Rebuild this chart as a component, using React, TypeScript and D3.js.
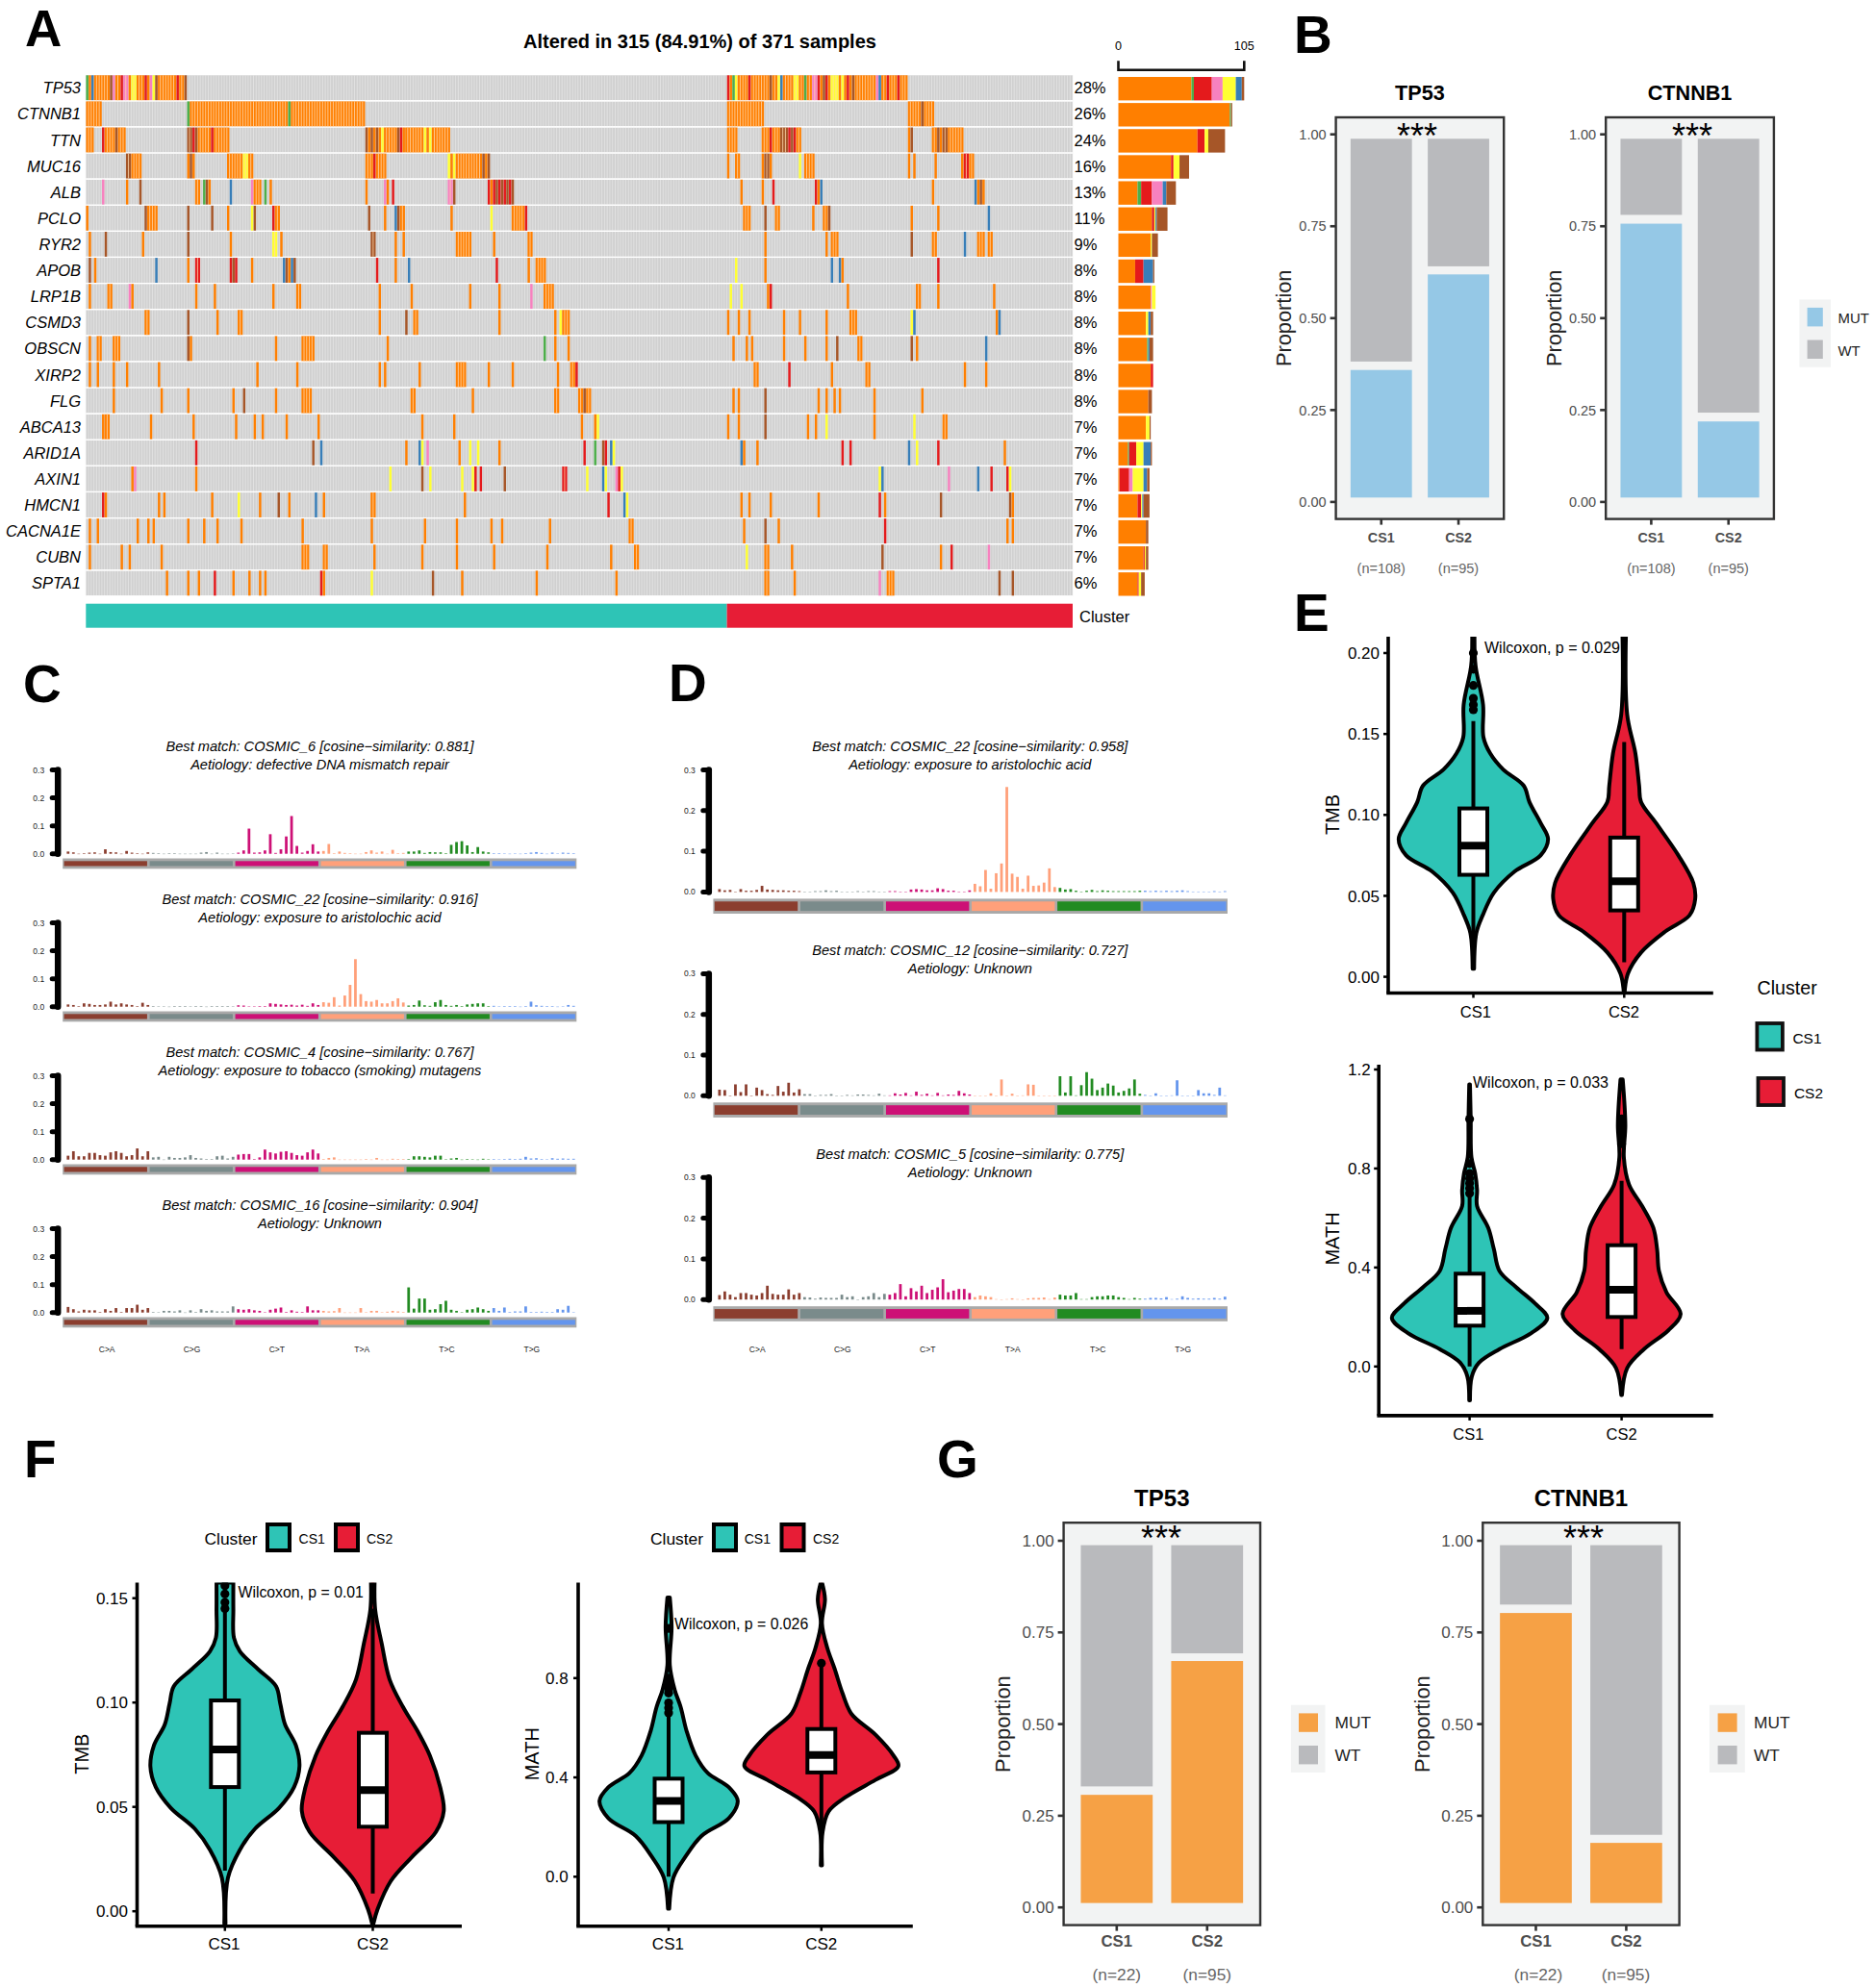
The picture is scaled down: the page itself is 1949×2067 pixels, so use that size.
import * as d3 from 'd3';

const FONT = '"Liberation Sans", Arial, sans-serif';
const TEAL = '#2EC4B6';
const RED = '#E71D36';

// ---- panel A, oncoplot ----
const genes = ['TP53', 'CTNNB1', 'TTN', 'MUC16', 'ALB', 'PCLO', 'RYR2', 'APOB', 'LRP1B', 'CSMD3', 'OBSCN', 'XIRP2', 'FLG', 'ABCA13', 'ARID1A', 'AXIN1', 'HMCN1', 'CACNA1E', 'CUBN', 'SPTA1'];
const pctLabels = ['28%', '26%', '24%', '16%', '13%', '11%', '9%', '8%', '8%', '8%', '8%', '8%', '8%', '7%', '7%', '7%', '7%', '7%', '7%', '6%'];
const mutTypes = ['M', 'S', 'N', 'I', 'D', 'F', 'B'];
const mutColors: Record<string, string> = { M: '#FF7F00', S: '#4DAF4A', N: '#E41A1C', I: '#F781BF', D: '#FFFF33', F: '#377EB8', B: '#A65628' };
const nSamples = 371;
const nCS1 = 241;

// type + sample column (or column range)
const geneHits = [
  'S0 M1 F2 M3-8 B9 I10 M11-12 N13 I14-15 M16 D17-18 M19-21 N22 M23 I24 D25 B26 M27-33 N34 M35-36 B37 N241 M242 S243 D244 M245-248 N249 M250-256 B257 M258-259 D260 F261 M262-265 D266-267 M268-269 S270 M271-272 I273-274 N275 M276 B277 N278 M279 D280-282 M283 D284 M285 N286 M287 B288 M289-296 I297 F298 M299-300 N301 M302-304 N305 M306-308',
  'M0-5 S38 M39-75 S76 M77-104 M241-254 M309-313 B314 M315-318',
  'M0-2 N6 M7-10 B11 M12-14 B38-39 N40 B41 M42-46 N47 M48-53 B105 M106 B107 M108 B109 M110 D111 M112-116 B117 N118 M119 M120-126 D127 M128 D129 M130-136 M241-244 M254-256 N257 M258-260 B261-263 N264 B265 N266 M267-268 M309 B310 M318-319 B320 M321 B322-323 M324-329',
  'B15-16 M17-20 M38 B39 M40 M53-58 D59-60 M61-62 M105-107 N108 M109-112 D136 M137 D138 M139-148 B149 M150 B151 M241 M244-245 M254 B255-256 M257 D268 M270-273 M309 M311 M319 M329 N330-331 M332-333',
  'I6 M15 B20 M41-42 S44 B45 M46 F54 I62 M63-65 S67 M69 M105 I112 M113 N115 I136-137 B138 N151 M152 N153 B154 N155 B156 N157 B158 N159 B160 M246 M254 N258 N274 M275 F276 M318 F334 M335 B336 M337',
  'M0 B22 M23-26 B38 B47 M53 D62 B63 N70 M71-72 B106 M112 F116 B117 M118-119 M137 D152 M160-164 N165 M247-249 B255 M259-260 M273 M277-278 B279 M310 M320 F339',
  'M1 B7 M21 B38 M54 D70-71 M73 B107-108 M116 M119 M139-144 M153 M166-167 M255 M278 M280-282 B310 M318-319 F330 M335-337 M339-340',
  'B1 M3 F26 M38 N41-42 N54 B55 N56 M62 F74 B75 M76 F77 B78 N109 M116 F121 N154 M166 M169-172 D244 M255 F280 F283 M284 N320',
  'M1 M8-9 I16 M17 M41 M48 M70 M79-80 M110 M122 M144 M155 I167 M172-175 D242 D246 M256 N257 M286 M312-313 M320 M341',
  'M22-23 B38 M49 M57-58 M110 B120 M123-124 M155 M176 D178 M179-181 M241 M245 M249 M262 M268 M278 M287-289 D310 F311 M342 F343',
  'M1 M4-5 M10-12 B38 M39 M71 M81-85 M113 S172 M176 M181 M243 M248 M250 M262 M270 M278 B282 M290-291 B310 M312 F338',
  'M1 M4 M10 M15 M27 M64 M79 M110 M112 M125 M139-142 M151 M160 M177 M182-183 N184 M251-252 N264 M280 M293-294 M330 M338',
  'M10 M28 M38 M55 B59 M71 M81-84 M122-123 M145 M176-177 M185-186 B187 M188-189 M243 M245 B255 M275 M278 M281 M283 M296 M314',
  'M6 M7-8 M24 M40 M56 M63 M66 M75 M87 M126 M138 M186 M191 D192 M241 M245 B255 M271 M274 D278 M296 D311 M322-323',
  'N41 B85 F88 M120 F125 D126 I128 M140 D144 D147 M155 N187 S191 B194 N195 F197 D198 F246 M247 M252 N284 N287 F309 D312 N320 M345',
  'M17 I18 M41 D114 B126 D129 D141 D145 N146 N148 B157 N179-180 D188 F194 D195 I199 N200 D201 D298 F299 I324 F335 N340 N346 D347',
  'N6 M7 M27 M29 M47 D57 M65 B72 M76 F86 M89 M107-108 M142 N196 F202 D203 M246 M249 M257 M275 N298 M300 B321 B347 M348',
  'M1 M4 M19 M23 M25 M38 M44 M49 M58 M81 M107 M127 M139 M152 M156 M174 M204-205 M247 B255 M260 N300 M346 M348',
  'M1 M13 M16 M28 M81-83 M89-90 M108 M126 M139 M153 M173 M197 M206-207 D248 M255-256 M265 B299 M321 N325 I339',
  'M30 M38 M42 N48 M55 M61 M65 M67 N88 M89 D107 B130 M141 M169 M199 M255-256 M266 I298 M301-303 B343 B348',
];

// order of mutTypes at right
const geneCounts = [
  [61, 2, 15, 9, 11, 5, 2],
  [93, 1, 0, 0, 0, 0, 1],
  [66, 0, 6, 0, 3, 0, 14],
  [44, 0, 2, 0, 5, 0, 8],
  [16, 3, 9, 9, 0, 3, 8],
  [28, 0, 2, 0, 1, 1, 9],
  [27, 0, 0, 0, 1, 0, 5],
  [14, 0, 7, 0, 0, 8, 1],
  [27, 0, 0, 1, 3, 0, 0],
  [23, 0, 0, 0, 2, 2, 2],
  [24, 1, 0, 0, 0, 1, 3],
  [27, 0, 2, 0, 0, 0, 0],
  [25, 0, 0, 0, 0, 0, 3],
  [23, 0, 0, 0, 3, 0, 1],
  [8, 1, 6, 0, 6, 6, 1],
  [1, 0, 8, 3, 9, 3, 2],
  [16, 0, 3, 0, 1, 1, 5],
  [23, 0, 0, 0, 0, 0, 2],
  [21, 0, 1, 0, 1, 0, 2],
  [16, 0, 1, 0, 2, 0, 3],
];

function parseHits(s: string) {
  return s.split(' ').map(tok => {
    const [a, b] = tok.slice(1).split('-').map(Number);
    return { type: tok[0], start: a, end: b === undefined ? a : b };
  });
}

function Oncoplot() {
  const x = d3.scaleBand<number>(d3.range(nSamples), [89.3, 1115]);
  const y = d3.scaleBand<string>(genes, [78.3, 619.3]).paddingInner(0.045);
  const barX = d3.scaleLinear([0, 105], [1162.5, 1293.3]);
  const stack = d3.stack<number[]>().keys(mutTypes.map((_, i) => String(i))).value((d, k) => d[+k]);
  const series = stack(geneCounts);
  return (
    <g fontFamily={FONT}>
      <text x={727.5} y={50} textAnchor="middle" fontSize={20} fontWeight="bold">Altered in 315 (84.91%) of 371 samples</text>
      {genes.map((g, i) => (
        <g key={g}>
          <rect x={89.3} y={y(g)} width={1025.7} height={y.bandwidth()} fill="#D0D0D0" />
          <text x={84} y={y(g)! + 19} textAnchor="end" fontSize={16.5} fontStyle="italic">{g}</text>
          <text x={1116.5} y={y(g)! + 19} fontSize={16.5}>{pctLabels[i]}</text>
        </g>
      ))}
      {d3.range(nSamples + 1).map(i => (
        <line key={i} x1={89.3 + i * x.step()} x2={89.3 + i * x.step()} y1={78.3} y2={619.3} stroke="#EDEDED" strokeWidth={0.6} />
      ))}
      {genes.map(g => (
        <line key={g} x1={89.3} x2={1115} y1={y(g)! + y.bandwidth() + 0.6} y2={y(g)! + y.bandwidth() + 0.6} stroke="#fff" strokeWidth={1.2} />
      ))}
      {genes.map((g, i) => parseHits(geneHits[i]).map((h, j) => (
        <rect key={g + j} x={x(h.start)! + 0.15} y={y(g)} width={(h.end - h.start + 1) * x.step() - 0.3} height={y.bandwidth()} fill={mutColors[h.type]} />
      )))}
      {/* column gaps inside runs */}
      {genes.map((g, i) => parseHits(geneHits[i]).filter(h => h.end > h.start).map((h, j) => d3.range(h.start + 1, h.end + 1).map(c => (
        <line key={g + j + '-' + c} x1={x(c)} x2={x(c)} y1={y(g)} y2={y(g)! + y.bandwidth()} stroke="#FFD9B0" strokeWidth={0.8} />
      ))))}
      <rect x={89.3} y={627.7} width={x(nCS1)! - 89.3} height={25} fill={TEAL} />
      <rect x={x(nCS1)} y={627.7} width={1115 - x(nCS1)!} height={25} fill={RED} />
      <text x={1122} y={646.7} fontSize={16.5}>Cluster</text>

      <path d={`M${barX(0)},63.3V72.7H${barX(105)}V63.3`} fill="none" stroke="#111" strokeWidth={2.6} />
      <text x={barX(0)} y={51.5} textAnchor="middle" fontSize={12.6}>0</text>
      <text x={barX(105)} y={51.5} textAnchor="middle" fontSize={12.6}>105</text>
      {series.map((s, k) => s.map((d, i) => (
        <rect key={k + '-' + i} x={barX(d[0])} y={y(genes[i])! + 1.7} width={barX(d[1]) - barX(d[0])} height={24.4} fill={mutColors[mutTypes[k]]} />
      )))}
    </g>
  );
}

// ---- panels B, G, stacked proportion bars ----
const clusters = ['CS1', 'CS2'];
const bMutTp53 = [0.359, 0.619];
const bWtBaseTp53 = [0.382, 0.641];
const bMutCtnnb1 = [0.757, 0.219];
const bWtBaseCtnnb1 = [0.781, 0.243];
const gMutTp53 = [0.307, 0.672];
const gWtBaseTp53 = [0.33, 0.693];
const gMutCtnnb1 = [0.803, 0.176];
const gWtBaseCtnnb1 = [0.826, 0.198];
const propTicks = [0, 0.25, 0.5, 0.75, 1];

type PropProps = {
  title: string; mut: number[]; wtBase: number[]; nLabels: string[]; color: string;
  left: number; right: number; top: number; bottom: number; y0: number; y1: number;
  titleY: number; titleSize: number; starsX: number; starsY: number; labelX: number;
  tickSize: number; xLabelY: number; nY: number; nSize: number; xSize: number; nXs?: number[];
};

function PropPanel(p: PropProps) {
  const x = d3.scaleBand<string>(clusters, [p.left, p.right]).paddingInner(0.205).paddingOuter(0.19);
  const y = d3.scaleLinear([0, 1], [p.y0, p.y1]);
  return (
    <g fontFamily={FONT}>
      <rect x={p.left} y={p.top} width={p.right - p.left} height={p.bottom - p.top} fill="#F2F3F3" stroke="#333" strokeWidth={2.4} />
      {clusters.map((c, i) => (
        <g key={c}>
          <rect x={x(c)} width={x.bandwidth()} y={y(p.mut[i])} height={y(0.012) - y(p.mut[i])} fill={p.color} />
          <rect x={x(c)} width={x.bandwidth()} y={y(0.988)} height={y(p.wtBase[i]) - y(0.988)} fill="#B9BABD" />
          <line x1={x(c)! + x.bandwidth() / 2} x2={x(c)! + x.bandwidth() / 2} y1={p.bottom} y2={p.bottom + 6} stroke="#333" strokeWidth={2.6} />
          <text x={x(c)! + x.bandwidth() / 2} y={p.xLabelY} textAnchor="middle" fontSize={p.xSize} fontWeight="bold" fill="#4D4D4D">{c}</text>
          <text x={p.nXs ? p.nXs[i] : x(c)! + x.bandwidth() / 2} y={p.nY} textAnchor="middle" fontSize={p.nSize} fill="#666">{p.nLabels[i]}</text>
        </g>
      ))}
      {propTicks.map(t => (
        <g key={t}>
          <line x1={p.left - 6} x2={p.left} y1={y(t)} y2={y(t)} stroke="#333" strokeWidth={2.6} />
          <text x={p.left - 10} y={y(t) + p.tickSize * 0.36} textAnchor="end" fontSize={p.tickSize} fill="#4D4D4D">{t.toFixed(2)}</text>
        </g>
      ))}
      <text x={(p.left + p.right) / 2} y={p.titleY} textAnchor="middle" fontSize={p.titleSize} fontWeight="bold">{p.title}</text>
      <text x={p.starsX} y={p.starsY} textAnchor="middle" fontSize={36}>***</text>
      <text transform={`translate(${p.labelX},${(p.y0 + p.y1) / 2}) rotate(-90)`} textAnchor="middle" fontSize={21.8} fill="#222">Proportion</text>
    </g>
  );
}

function PropLegend({ x, y, w, h, sw, sx, mutY, wtY, swH, tx, size, color, mutBase, wtBase }: any) {
  return (
    <g fontFamily={FONT}>
      <rect x={x} y={y} width={w} height={h} fill="#F2F3F3" />
      <rect x={sx} y={mutY} width={sw} height={swH} fill={color} />
      <rect x={sx} y={wtY} width={sw} height={swH} fill="#B9BABD" />
      <text x={tx} y={mutBase} fontSize={size} fill="#222">MUT</text>
      <text x={tx} y={wtBase} fontSize={size} fill="#222">WT</text>
    </g>
  );
}

// ---- panels C, D, 96 channel mutational signatures ----
const sigClasses = ['C>A', 'C>G', 'C>T', 'T>A', 'T>C', 'T>G'];
const sigColors = ['#8B3E2F', '#7A8B8B', '#CD1076', '#FFA07A', '#228B22', '#6495ED'];
const sigTicks = [0, 0.1, 0.2, 0.3];

const cCosmic6 = [
  .008, .005, 0, .002, .004, .005, 0, .016, .006, .005, 0, .01, .004, .002, 0, .005,
  .003, .002, 0, .002, .002, 0, 0, 0, 0, .004, .006, 0, .004, 0, 0, .001,
  .004, .012, .09, .004, .005, .012, .07, .003, .016, .062, .135, .028, .004, .01, .034, .008,
  .01, .035, .002, .008, .003, .002, 0, 0, .006, .012, .004, .008, 0, .014, .002, .003,
  .008, .008, .012, .003, .006, .005, .005, .002, .032, .042, .045, .03, .006, .024, .008, .005,
  .002, .002, .001, 0, .001, 0, .002, .004, .006, .003, 0, .004, .001, .004, .003, .002,
];
const cCosmic22 = [
  .008, .006, .002, .012, .01, .006, .006, .008, .018, .008, .012, .008, .006, .002, .014, .006,
  .002, .001, .001, 0, .002, .002, .002, .001, .002, .002, 0, .002, .002, .002, .002, .001,
  .005, .004, .001, .001, .002, .002, .012, .01, .008, .006, .007, .004, .007, .003, .012, .006,
  .016, .014, .034, .004, .04, .078, .17, .045, .02, .018, .024, .012, .012, .02, .03, .015,
  .004, .006, .022, .005, .003, .016, .024, .006, .003, .006, .002, .008, .01, .012, .012, .002,
  .003, .001, .002, .002, .002, 0, .002, .018, .005, .003, .002, .002, 0, .001, .006, .003,
];
const cCosmic4 = [
  .014, .03, .012, .012, .024, .024, .016, .014, .026, .03, .024, .012, .016, .04, .012, .03,
  .008, .01, 0, .01, .006, .006, .008, .016, .006, .004, .002, .002, .012, .014, .004, .01,
  .018, .02, .02, .002, .008, .036, .026, .022, .028, .03, .024, .016, .014, .026, .036, .022,
  .002, .006, .008, 0, 0, 0, 0, 0, .002, 0, .006, 0, 0, .003, .002, .002,
  .002, .012, .012, .01, .008, .014, .014, .001, .004, .006, 0, .002, .001, 0, .003, .001,
  .002, .001, .002, .003, .002, .003, .01, .004, .005, .002, .001, .005, .003, .004, .003, .003,
];
const cCosmic16 = [
  .02, .012, .004, .01, .008, .008, .002, .012, .006, .016, .002, .016, .016, .028, .01, .016,
  .002, .001, .006, .006, .004, .008, 0, .008, .002, .012, .006, .008, .004, .004, .004, .022,
  .012, .01, .012, .008, .006, .001, .01, .014, .018, .002, .008, .003, .002, .022, .008, .008,
  .006, .004, .005, .016, 0, 0, 0, .016, .001, .006, .006, .001, .003, .006, .004, .002,
  .09, .014, .05, .05, .01, .012, .03, .042, .01, .006, .001, .01, .012, .018, .012, .006,
  .016, .006, .018, .002, .004, .004, .022, .002, .002, .003, .002, .002, .012, .01, .024, .001,
];
const dCosmic22 = [
  .007, .004, .005, 0, .007, .003, .003, .005, .015, .006, .005, .004, .004, .003, .003, .002,
  0, 0, .002, .002, .004, .002, .003, 0, 0, 0, .002, 0, .002, .002, 0, 0,
  .002, .002, 0, 0, .006, .007, .006, .004, .004, .009, .007, .003, .003, .001, .001, .004,
  .02, .014, .054, .008, .046, .07, .258, .045, .037, .008, .04, .015, .016, .023, .058, .012,
  .01, .006, .007, .003, .001, .003, .005, .002, .004, .003, .002, .002, .002, .002, .002, .003,
  .003, .002, .003, .002, .003, .002, .003, .004, .002, .001, .001, .001, 0, .002, .001, .002,
];
const dCosmic12 = [
  .015, .014, 0, .028, .009, .028, 0, .02, .014, .004, .002, .024, .01, .032, .008, .016,
  .004, .004, 0, .002, .002, .004, 0, 0, .002, .001, .003, .003, .002, .001, .005, .001,
  .001, .006, .003, .007, .001, .01, .002, .005, .001, .007, .001, .003, .002, .012, .006, .003,
  0, 0, 0, .006, 0, .04, 0, .005, 0, .001, .028, .027, 0, 0, 0, 0,
  .048, .008, .048, .001, .026, .058, .042, .014, .02, .03, .025, .008, .012, .018, .04, .005,
  .002, 0, .006, 0, 0, .001, .038, 0, 0, 0, .014, .006, .006, .002, .02, .001,
];
const dCosmic5 = [
  .011, .02, .012, .006, .016, .016, .012, .01, .016, .034, .014, .012, .012, .025, .012, .016,
  .006, .005, .002, .005, .004, .004, .004, .012, .006, .008, 0, .006, .008, .016, .006, .014,
  .012, .016, .038, .008, .028, .02, .034, .016, .024, .03, .05, .018, .022, .026, .026, .016,
  .006, .01, .008, .006, .001, 0, .001, .003, .001, 0, .003, .004, .004, .005, .001, .005,
  .012, .01, .01, .016, .001, .001, .006, .008, .008, .01, .01, .006, .004, .001, .004, .002,
  .002, .004, .004, .003, .006, .001, .002, .008, .004, .002, .003, .002, .002, .004, .002, .007,
];

type SigProps = {
  values: number[]; line1: string; line2: string; axisX: number; y3: number; y0: number;
  barStart: number; stripLeft: number; stripRight: number; stripTop: number; stripBottom: number; innerInset: number;
  textX: number; line1Y: number;
};

function SigPanel(p: SigProps) {
  const step = 5.56;
  const x = d3.scaleBand<number>(d3.range(96), [p.barStart - step / 2, p.barStart - step / 2 + 96 * step]).padding(0.5);
  const y = d3.scaleLinear([0, 0.3], [p.y0, p.y3]);
  const classX = d3.scaleBand<string>(sigClasses, [p.stripLeft + 1.4, p.stripRight - 1.4]).paddingInner(0.03);
  return (
    <g fontFamily={FONT}>
      <text x={p.textX} y={p.line1Y} textAnchor="middle" fontSize={14.6} fontStyle="italic">{p.line1}</text>
      <text x={p.textX} y={p.line1Y + 19} textAnchor="middle" fontSize={14.6} fontStyle="italic">{p.line2}</text>
      <line x1={p.axisX} x2={p.axisX} y1={y(0)} y2={y(0.3)} stroke="#000" strokeWidth={6.5} strokeLinecap="round" />
      {sigTicks.map(t => (
        <g key={t}>
          <line x1={p.axisX - 6} x2={p.axisX} y1={y(t)} y2={y(t)} stroke="#000" strokeWidth={5} strokeLinecap="round" />
          <text x={p.axisX - 14} y={y(t) + 3} textAnchor="end" fontSize={8.5} fill="#222">{t.toFixed(1)}</text>
        </g>
      ))}
      {p.values.map((v, i) => (
        <rect key={i} x={x(i)} width={x.bandwidth()} y={y(v)} height={Math.max(y(0) - y(v), 0.4)} fill={sigColors[Math.floor(i / 16)]} />
      ))}
      <rect x={p.stripLeft} y={p.stripTop} width={p.stripRight - p.stripLeft} height={p.stripBottom - p.stripTop} fill="#A9A9A9" />
      {sigClasses.map((c, i) => (
        <rect key={c} x={classX(c)} width={classX.bandwidth()} y={p.stripTop + p.innerInset} height={p.stripBottom - p.stripTop - 2 * p.innerInset} fill={sigColors[i]} />
      ))}
    </g>
  );
}

function SigClassLabels({ left, right }: { left: number; right: number }) {
  const classX = d3.scaleBand<string>(sigClasses, [left, right]);
  return (
    <g fontFamily={FONT}>
      {sigClasses.map(c => (
        <text key={c} x={classX(c)! + classX.bandwidth() / 2} y={1406} textAnchor="middle" fontSize={8.5} fill="#222">{c}</text>
      ))}
    </g>
  );
}

// ---- panels E, F, violins: value read at height, half width as read ----
const eTmbCs1Val = [.21, .192, .168, .148, .138, .128, .118, .108, .095, .085, .075, .065, .052, .038, .027, .005];
const eTmbCs1Den = [3, 6, 26, 27, 45, 80, 135, 150, 180, 200, 180, 110, 55, 25, 8, 2];
const eTmbCs2Val = [.215, .162, .138, .118, .108, .095, .075, .058, .048, .038, .028, .015, .002, -.01];
const eTmbCs2Den = [5, 8, 30, 40, 45, 85, 145, 185, 190, 175, 110, 45, 10, 1];
const eMathCs1Val = [1.14, 1.0, .845, .78, .714, .648, .56, .474, .386, .32, .255, .196, .135, .07, .015, -.04, -.137];
const eMathCs1Den = [1, 3, 5, 15, 20, 20, 50, 65, 80, 125, 175, 208, 165, 80, 25, 6, 1];
const eMathCs2Val = [1.16, .975, .845, .735, .648, .56, .474, .386, .3, .212, .146, .07, -.006, -.115];
const eMathCs2Den = [3, 10, 6, 20, 55, 85, 95, 100, 120, 158, 125, 60, 15, 1];
const fTmbCs1Val = [.1575, .1445, .131, .1245, .116, .1078, .0995, .0895, .0795, .0695, .0595, .0495, .0395, .0295, .016, -.006];
const fTmbCs1Den = [14, 14, 15, 25, 55, 85, 92, 100, 118, 124, 115, 90, 50, 25, 5, 1];
const fTmbCs2Val = [.1575, .1445, .128, .111, .098, .086, .0745, .0595, .048, .038, .026, .0145, .001, -.006];
const fTmbCs2Den = [3, 4, 15, 28, 50, 75, 95, 112, 118, 105, 65, 30, 8, 1];
const fMathCs1Val = [1.125, 1.006, .852, .754, .684, .586, .488, .418, .361, .305, .235, .165, .081, -.003, -.129];
const fMathCs1Den = [2, 5, 2, 10, 20, 30, 45, 65, 100, 115, 100, 55, 28, 8, 1];
const fMathCs2Val = [1.185, 1.118, 1.02, .92, .838, .74, .656, .572, .488, .445, .39, .32, .263, .18, .046];
const fMathCs2Den = [1, 6, 1, 10, 22, 35, 50, 90, 120, 128, 90, 40, 12, 2, 1];

// q1, median, q3, whisker low, whisker high
const eTmbBox = [[.063, .081, .104, .005, .158], [.041, .059, .086, .009, .145]];
const eMathBox = [[.165, .225, .375, 0, .71], [.2, .31, .49, .07, .75]];
const fTmbBox = [[.0595, .0775, .101, .0195, .15], [.0405, .058, .0855, .0085, .145]];
const fMathBox = [[.22, .305, .395, 0, .65], [.42, .49, .595, .05, .85]];
const eTmbOut = [[.165, .168, .172, .18, .19, .2], []];
const eMathOut = [[.70, .72, .74, .76, .78, .82, 1.0], [.9, .93, .95, .98, 1.0]];
const fTmbOut = [[.145, .148, .152, .156], []];
const fMathOut = [[.66, .68, .7, .74, .76, .78, .8, 1.0], [.86]];

type ViolinProps = {
  id: string; vals: number[][]; dens: number[][]; box: number[][]; out: number[][];
  cx: number[]; axisX: number; top: number; bottom: number; right: number;
  yDomain: number[]; yRange: number[]; ticks: number[]; tickFmt: string; tickRight: number; tickSize: number;
  widthPerUnit: number; boxHalf: number; ylabel: string; ylabelX: number; ylabelY: number;
  xLabelXs: number[]; xLabelY: number; xSize: number;
  note: string; noteX: number; noteY: number; noteSize: number;
  stroke: number;
};

function ViolinPlot(p: ViolinProps) {
  const y = d3.scaleLinear(p.yDomain, p.yRange);
  const w = d3.scaleLinear([0, 1], [0, p.widthPerUnit]);
  const fmt = d3.format(p.tickFmt);
  const fills = [TEAL, RED];
  return (
    <g fontFamily={FONT}>
      <clipPath id={p.id}>
        <rect x={p.axisX} y={p.top} width={p.right - p.axisX} height={p.bottom - p.top} />
      </clipPath>
      <g clipPath={`url(#${p.id})`}>
        {fills.map((fill, k) => {
          const rows = p.vals[k].map((v, i) => ({ v, d: p.dens[k][i] }));
          const area = d3.area<{ v: number; d: number }>()
            .y(r => y(r.v))
            .x0(r => p.cx[k] - w(r.d))
            .x1(r => p.cx[k] + w(r.d))
            .curve(d3.curveCatmullRom);
          const [q1, med, q3, lo, hi] = p.box[k];
          return (
            <g key={k}>
              <path d={area(rows) ?? undefined} fill={fill} stroke="#000" strokeWidth={p.stroke} strokeLinejoin="round" />
              <line x1={p.cx[k]} x2={p.cx[k]} y1={y(lo)} y2={y(hi)} stroke="#000" strokeWidth={p.stroke} />
              {p.out[k].map((o, i) => <circle key={i} cx={p.cx[k]} cy={y(o)} r={4.6} fill="#000" />)}
              <rect x={p.cx[k] - p.boxHalf} y={y(q3)} width={2 * p.boxHalf} height={y(q1) - y(q3)} fill="#fff" stroke="#000" strokeWidth={p.stroke} />
              <line x1={p.cx[k] - p.boxHalf} x2={p.cx[k] + p.boxHalf} y1={y(med)} y2={y(med)} stroke="#000" strokeWidth={p.stroke * 2} />
            </g>
          );
        })}
      </g>
      <line x1={p.axisX} x2={p.axisX} y1={p.top} y2={p.bottom} stroke="#000" strokeWidth={3.6} />
      <line x1={p.axisX - 1.8} x2={p.right} y1={p.bottom} y2={p.bottom} stroke="#000" strokeWidth={3.6} />
      {p.ticks.map(t => (
        <g key={t}>
          <line x1={p.axisX - 5} x2={p.axisX} y1={y(t)} y2={y(t)} stroke="#000" strokeWidth={2.5} />
          <text x={p.tickRight} y={y(t) + p.tickSize * 0.36} textAnchor="end" fontSize={p.tickSize}>{fmt(t)}</text>
        </g>
      ))}
      {clusters.map((c, k) => (
        <g key={c}>
          <line x1={p.cx[k]} x2={p.cx[k]} y1={p.bottom} y2={p.bottom + 5} stroke="#000" strokeWidth={2.5} />
          <text x={p.xLabelXs[k]} y={p.xLabelY} textAnchor="middle" fontSize={p.xSize}>{c}</text>
        </g>
      ))}
      <text transform={`translate(${p.ylabelX},${p.ylabelY}) rotate(-90)`} textAnchor="middle" fontSize={20}>{p.ylabel}</text>
      <text x={p.noteX} y={p.noteY} fontSize={p.noteSize}>{p.note}</text>
    </g>
  );
}

function ClusterKeyF({ textX, a, b, ta, tb }: { textX: number; a: number; b: number; ta: number; tb: number }) {
  return (
    <g fontFamily={FONT}>
      <text x={textX} y={1605.6} fontSize={17.4}>Cluster</text>
      <rect x={a} y={1585} width={23} height={27} fill={TEAL} stroke="#000" strokeWidth={4} />
      <rect x={b} y={1585} width={23} height={27} fill={RED} stroke="#000" strokeWidth={4} />
      <text x={ta} y={1604.9} fontSize={14}>CS1</text>
      <text x={tb} y={1604.9} fontSize={14}>CS2</text>
    </g>
  );
}

const panelLetters = [
  { t: 'A', x: 26, y: 48, s: 53 },
  { t: 'B', x: 1345, y: 55, s: 55 },
  { t: 'C', x: 24, y: 730, s: 55 },
  { t: 'D', x: 695, y: 729, s: 55 },
  { t: 'E', x: 1345, y: 656, s: 55 },
  { t: 'F', x: 25, y: 1536, s: 55 },
  { t: 'G', x: 974, y: 1536, s: 55 },
];

const cPanels = [
  { v: cCosmic6, a: 'Best match: COSMIC_6 [cosine\u2212similarity: 0.881]', b: 'Aetiology: defective DNA mismatch repair' },
  { v: cCosmic22, a: 'Best match: COSMIC_22 [cosine\u2212similarity: 0.916]', b: 'Aetiology: exposure to aristolochic acid' },
  { v: cCosmic4, a: 'Best match: COSMIC_4 [cosine\u2212similarity: 0.767]', b: 'Aetiology: exposure to tobacco (smoking) mutagens' },
  { v: cCosmic16, a: 'Best match: COSMIC_16 [cosine\u2212similarity: 0.904]', b: 'Aetiology: Unknown' },
];
const dPanels = [
  { v: dCosmic22, a: 'Best match: COSMIC_22 [cosine\u2212similarity: 0.958]', b: 'Aetiology: exposure to aristolochic acid' },
  { v: dCosmic12, a: 'Best match: COSMIC_12 [cosine\u2212similarity: 0.727]', b: 'Aetiology: Unknown' },
  { v: dCosmic5, a: 'Best match: COSMIC_5 [cosine\u2212similarity: 0.775]', b: 'Aetiology: Unknown' },
];

export default function App() {
  const bCommon = { top: 122, bottom: 539.6, y0: 521.9, y1: 139.7, titleY: 104.4, titleSize: 21.6, starsY: 153.5, tickSize: 14.5, xLabelY: 564, nY: 595.5, nSize: 14.5, xSize: 14.3, color: '#95C8E6', nLabels: ['(n=108)', '(n=95)'] };
  const gCommon = { top: 1583.2, bottom: 2001.6, y0: 1983.2, y1: 1602, titleY: 1565.8, titleSize: 24, starsY: 1612, tickSize: 17, xLabelY: 2024.4, nY: 2058.8, nSize: 17.3, xSize: 16.7, color: '#F6A145', nLabels: ['(n=22)', '(n=95)'] };
  const eCommon = { stroke: 4, xSize: 16.5, tickSize: 17, widthPerUnit: 1 / 2.575, boxHalf: 14.5, noteSize: 16, right: 1780.8, ylabelX: 1392 };
  const fCommon = { stroke: 4, xSize: 17, tickSize: 17, widthPerUnit: 1 / 1.6, boxHalf: 14.5, noteSize: 15.8, top: 1645.4, bottom: 2002.7, xLabelY: 2027.3, ylabelY: 1823.7 };
  return (
    <svg width={1949} height={2067} style={{ position: 'absolute', left: 0, top: 0, background: '#fff' }}>
      {panelLetters.map(l => (
        <text key={l.t} x={l.x} y={l.y} fontFamily={FONT} fontWeight="bold" fontSize={l.s}>{l.t}</text>
      ))}
      <Oncoplot />

      <PropPanel {...bCommon} title="TP53" mut={bMutTp53} wtBase={bWtBaseTp53} left={1388.6} right={1563.2} starsX={1473} labelX={1342} />
      <PropPanel {...bCommon} title="CTNNB1" mut={bMutCtnnb1} wtBase={bWtBaseCtnnb1} left={1669.2} right={1843.9} starsX={1759} labelX={1623} />
      <PropLegend x={1870.4} y={311.4} w={32.6} h={70.3} sx={1878.6} sw={16.2} mutY={319.9} wtY={353.5} swH={19.5} tx={1910.5} size={14.9} color="#95C8E6" mutBase={335.9} wtBase={369.5} />

      <PropPanel {...gCommon} title="TP53" mut={gMutTp53} wtBase={gWtBaseTp53} left={1105.6} right={1310} starsX={1206.9} labelX={1050} />
      <PropPanel {...gCommon} title="CTNNB1" mut={gMutCtnnb1} wtBase={gWtBaseCtnnb1} left={1541.3} right={1745.6} starsX={1646} labelX={1486} nXs={[1599, 1690]} />
      <PropLegend x={1341.9} y={1772.7} w={35.6} h={70.2} sx={1350} sw={20} mutY={1781.4} wtY={1815} swH={19.4} tx={1387.5} size={17.3} color="#F6A145" mutBase={1797.3} wtBase={1831} />
      <PropLegend x={1776.9} y={1772.7} w={36.9} h={70.2} sx={1785.6} sw={20} mutY={1781.4} wtY={1815} swH={19.4} tx={1823} size={17.3} color="#F6A145" mutBase={1797.3} wtBase={1831} />

      {cPanels.map((s, i) => (
        <SigPanel key={i} values={s.v} line1={s.a} line2={s.b} axisX={60.2} y3={800.5 + i * 159} y0={887.7 + i * 159}
          barStart={69.4} stripLeft={65.2} stripRight={599.3} stripTop={892.5 + i * 159} stripBottom={903.3 + i * 159} innerInset={2.8}
          textX={332.5} line1Y={781 + i * 159} />
      ))}
      <SigClassLabels left={67} right={597} />
      {dPanels.map((s, i) => (
        <SigPanel key={i} values={s.v} line1={s.a} line2={s.b} axisX={736.8} y3={800.5 + i * 211.9} y0={927.4 + i * 211.9}
          barStart={746.5} stripLeft={741.4} stripRight={1276} stripTop={934.4 + i * 211.9} stripBottom={950 + i * 211.9} innerInset={2.9}
          textX={1008.3} line1Y={781 + i * 211.9} />
      ))}
      <SigClassLabels left={743} right={1274} />

      <ViolinPlot {...eCommon} id="e1" vals={[eTmbCs1Val, eTmbCs2Val]} dens={[eTmbCs1Den, eTmbCs2Den]} box={eTmbBox} out={eTmbOut}
        cx={[1531.5, 1688.3]} axisX={1443} top={662} bottom={1032.5} yDomain={[0, 0.2]} yRange={[1015.6, 679]}
        ticks={[0, .05, .1, .15, .2]} tickFmt=".2f" tickRight={1434} ylabel="TMB" ylabelY={847}
        xLabelXs={[1533.8, 1688]} xLabelY={1057.7} note="Wilcoxon, p = 0.029" noteX={1543} noteY={679} />
      <ViolinPlot {...eCommon} id="e2" vals={[eMathCs1Val, eMathCs2Val]} dens={[eMathCs1Den, eMathCs2Den]} box={eMathBox} out={eMathOut}
        cx={[1527.6, 1685.6]} axisX={1433.2} top={1107} bottom={1471.9} yDomain={[0, 1.2]} yRange={[1420.8, 1112]}
        ticks={[0, .4, .8, 1.2]} tickFmt=".1f" tickRight={1424.7} ylabel="MATH" ylabelY={1288}
        xLabelXs={[1526.4, 1685.6]} xLabelY={1497} note="Wilcoxon, p = 0.033" noteX={1531} noteY={1130.7} />
      <g fontFamily={FONT}>
        <text x={1826.6} y={1033.6} fontSize={19.6}>Cluster</text>
        <rect x={1826.4} y={1064} width={26.5} height={27.5} fill={TEAL} stroke="#111" strokeWidth={3.8} />
        <rect x={1827.5} y={1121} width={26.5} height={28} fill={RED} stroke="#111" strokeWidth={3.8} />
        <text x={1863.5} y={1084.6} fontSize={15.4}>CS1</text>
        <text x={1865} y={1141.9} fontSize={15.4}>CS2</text>
      </g>

      <ViolinPlot {...fCommon} id="f1" vals={[fTmbCs1Val, fTmbCs2Val]} dens={[fTmbCs1Den, fTmbCs2Den]} box={fTmbBox} out={fTmbOut}
        cx={[233.8, 387.5]} axisX={142.5} right={480} yDomain={[0, 0.15]} yRange={[1987.2, 1661.7]}
        ticks={[0, .05, .1, .15]} tickFmt=".2f" tickRight={133} ylabel="TMB" ylabelX={92}
        xLabelXs={[233, 387.5]} note="Wilcoxon, p = 0.01" noteX={247.5} noteY={1661} />
      <ViolinPlot {...fCommon} id="f2" vals={[fMathCs1Val, fMathCs2Val]} dens={[fMathCs1Den, fMathCs2Den]} box={fMathBox} out={fMathOut}
        cx={[695, 853.8]} axisX={601} right={948.8} yDomain={[0, 0.8]} yRange={[1951.3, 1744.8]}
        ticks={[0, .4, .8]} tickFmt=".1f" tickRight={590.6} ylabel="MATH" ylabelX={560}
        xLabelXs={[694.4, 853.8]} note="Wilcoxon, p = 0.026" noteX={701} noteY={1693.5} />
      <ClusterKeyF textX={212.5} a={278} b={349} ta={310.6} tb={381} />
      <ClusterKeyF textX={676} a={742} b={812.5} ta={773.7} tb={845} />
    </svg>
  );
}
